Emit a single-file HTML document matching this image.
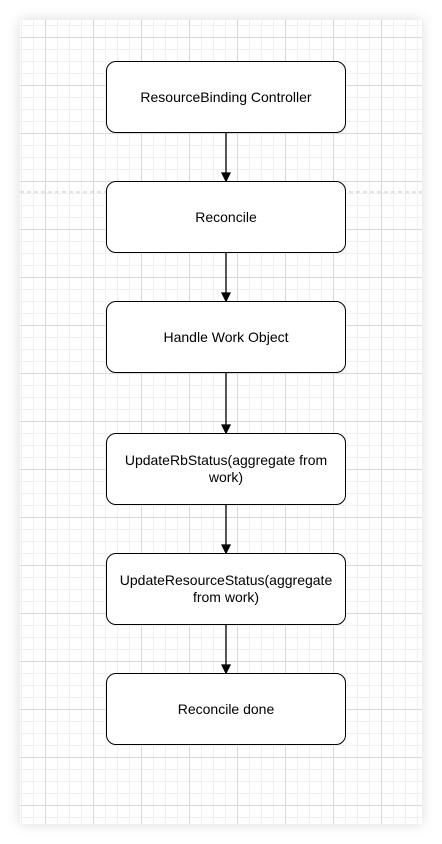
<!DOCTYPE html>
<html><head><style>
html,body{margin:0;padding:0;background:#fff;}
body{width:442px;height:844px;position:relative;overflow:hidden;font-family:"Liberation Sans",Arial,sans-serif;}
.canvas{position:absolute;left:20px;top:20px;width:402px;height:804px;box-shadow:0 0 12px rgba(0,0,0,0.15);
background-color:#fff;
background-image:
linear-gradient(to right,#d8d8d8 1px,transparent 1px),
linear-gradient(to bottom,#d8d8d8 1px,transparent 1px),
linear-gradient(to right,#efefef 1px,transparent 1px),
linear-gradient(to bottom,#efefef 1px,transparent 1px);
background-size:48px 48px,48px 48px,12px 12px,12px 12px;
background-position:25px 17px,25px 17px,1px 5px,1px 5px;}
.box{position:absolute;left:106px;width:238px;height:70px;border:1.3px solid #000;border-radius:10px;background:#fff;
display:flex;align-items:center;justify-content:center;text-align:center;font-size:14px;line-height:17px;color:#000;padding:0;box-sizing:content-box}
.box span{display:block;width:232px;}
</style></head><body>
<div class="canvas"></div>
<svg style="position:absolute;left:0;top:0" width="442" height="844">
<line x1="20" y1="192" x2="422" y2="192" stroke="#c8c8c8" stroke-dasharray="4 3"/>
<g stroke="#000" stroke-width="1.3" fill="#000">
<line x1="226" y1="133" x2="226" y2="174"/><path d="M222 173 L226 181 L230 173 Z"/>
<line x1="226" y1="253" x2="226" y2="294"/><path d="M222 293 L226 301 L230 293 Z"/>
<line x1="226" y1="373" x2="226" y2="426"/><path d="M222 425 L226 433 L230 425 Z"/>
<line x1="226" y1="505" x2="226" y2="546"/><path d="M222 545 L226 553 L230 545 Z"/>
<line x1="226" y1="625" x2="226" y2="666"/><path d="M222 665 L226 673 L230 665 Z"/>
</g></svg>
<div class="box" style="top:61px"><span>ResourceBinding Controller</span></div>
<div class="box" style="top:181px"><span>Reconcile</span></div>
<div class="box" style="top:301px"><span>Handle Work Object</span></div>
<div class="box" style="top:433px"><span>UpdateRbStatus(aggregate from work)</span></div>
<div class="box" style="top:553px"><span>UpdateResourceStatus(aggregate from work)</span></div>
<div class="box" style="top:673px"><span>Reconcile done</span></div>
</body></html>
